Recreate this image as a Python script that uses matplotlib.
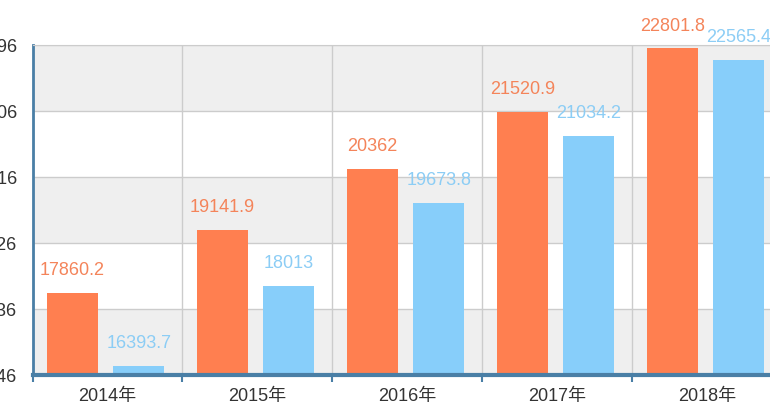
import matplotlib.pyplot as plt
import numpy as np

plt.rcParams['font.family'] = ['Liberation Sans', 'Noto Sans CJK SC']

# Data
years = ["2014年", "2015年", "2016年", "2017年", "2018年"]
orange_vals = [17860.2, 19141.9, 20362, 21520.9, 22801.8]
blue_vals = [16393.7, 18013, 19673.8, 21034.2, 22565.4]
# tick labels as shown (only last digits visible in the cropped original)
y_labels = ["16346", "17636", "18926", "20216", "21506", "22796"]
y_min, y_max = 16206, 22872

orange = "#ff7f50"
blue = "#87cefa"
axis_blue = "#4a7fa6"

fig = plt.figure(figsize=(7.7, 4.12), dpi=100)
# axes run past the right edge, like the cropped original
ax = fig.add_axes([32.5 / 770, 37 / 412, 750 / 770, 330 / 412])

x = np.arange(len(years))
ax.set_xlim(-0.5, len(years) - 0.5)
ax.set_ylim(y_min, y_max)
y_ticks = np.linspace(y_min, y_max, len(y_labels))

# alternating bands
for i in range(len(y_ticks) - 1):
    if (len(y_ticks) - 2 - i) % 2 == 0:
        ax.axhspan(y_ticks[i], y_ticks[i + 1], color="#efefef", zorder=0, lw=0)

for t in y_ticks:
    ax.axhline(t, color="#cccccc", lw=1, zorder=1)
for b in np.arange(-0.5, len(years), 1.0):
    ax.axvline(b, color="#cccccc", lw=1, zorder=1)

w = 0.342
ax.bar(x - 0.235, orange_vals, width=w, color=orange, zorder=2)
ax.bar(x + 0.208, blue_vals, width=w, color=blue, zorder=2)

for i in range(len(years)):
    ax.annotate(f"{orange_vals[i]:g}", (x[i] - 0.235, orange_vals[i]),
                xytext=(0, 10), textcoords="offset points", ha="center",
                va="bottom", color="#f4845a", fontsize=13, annotation_clip=False)
    ax.annotate(f"{blue_vals[i]:g}", (x[i] + 0.208, blue_vals[i]),
                xytext=(0, 10), textcoords="offset points", ha="center",
                va="bottom", color="#8ccdf5", fontsize=13, annotation_clip=False)

ax.set_yticks(y_ticks)
ax.set_yticklabels(y_labels, fontsize=13, color="#333333")
ax.tick_params(axis="y", length=0, pad=11)

ax.set_xticks(np.arange(-0.5, len(years), 1.0))
ax.set_xticklabels([])
ax.set_xticks(x, minor=True)
ax.set_xticklabels(years, minor=True, fontsize=13, color="#333333")
ax.tick_params(axis="x", which="major", direction="out", length=5, width=1.5, color=axis_blue)
ax.tick_params(axis="x", which="minor", length=0, pad=9)

ax.spines["left"].set_color(axis_blue)
ax.spines["left"].set_linewidth(2)
ax.spines["bottom"].set_color(axis_blue)
ax.spines["bottom"].set_linewidth(3)
ax.spines["top"].set_color("#cccccc")
ax.spines["right"].set_visible(False)

fig.savefig("out.png", dpi=100)
